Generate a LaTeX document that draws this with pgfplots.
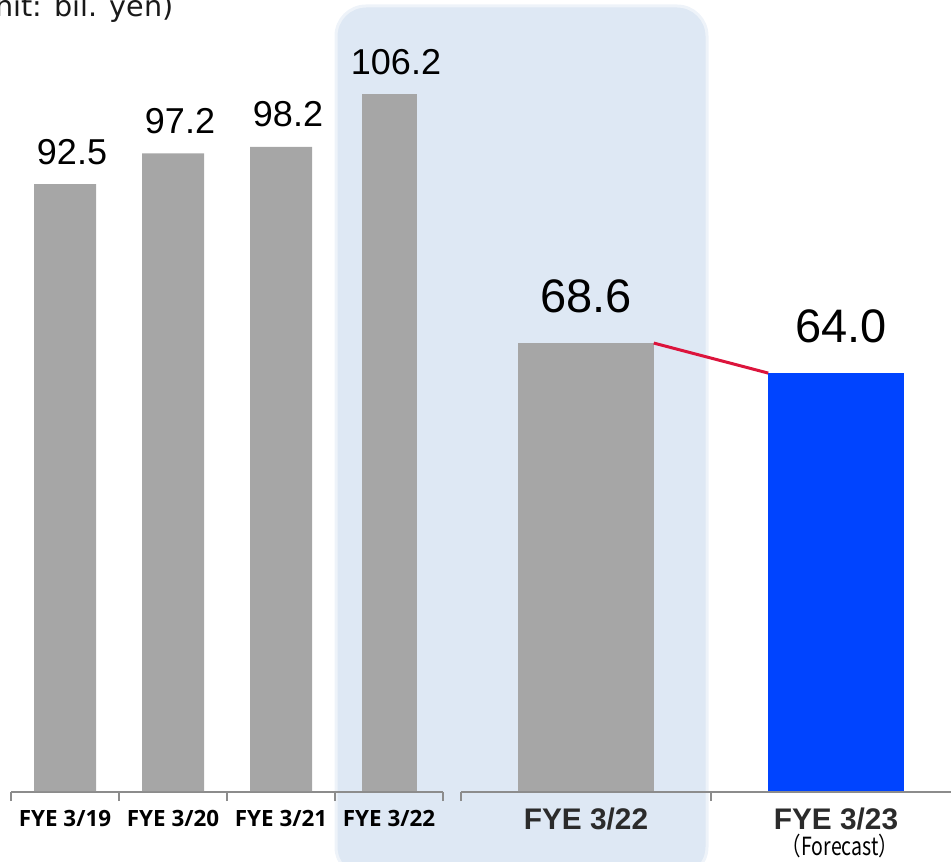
\documentclass[border=0pt]{standalone}
\usepackage{fontspec}
\setmainfont{Liberation Sans}
\newfontfamily\osans{Open Sans}
\newfontfamily\dejavu{DejaVu Sans}
\newfontfamily\cjk{Noto Sans CJK JP}
\usepackage{graphicx}
\usepackage{pgfplots}
\pgfplotsset{compat=1.18}
\definecolor{barg}{HTML}{A6A6A6}
\definecolor{barb}{HTML}{0044FF}
\definecolor{redl}{HTML}{DC143C}
\definecolor{bgbox}{HTML}{DEE8F4}
\definecolor{bgedge}{HTML}{EEF3F9}
\definecolor{axg}{HTML}{8C8C8C}
\definecolor{lab}{HTML}{2B2B2B}
\begin{document}
\begin{tikzpicture}
\useasboundingbox (0,0) rectangle (475.5pt,430.5pt);
\clip (0,0) rectangle (475.5pt,430.5pt);
\fill[bgbox, draw=bgedge, line width=1.5pt, rounded corners=15pt] (168pt,-8pt) rectangle (353.5pt,427.5pt);
\node[anchor=base east, font=\dejavu\fontsize{14.3}{16}\selectfont, text=black!90, inner sep=0pt] at (87pt,422.15pt) {(Unit: bil. yen)};

\begin{axis}[
  at={(5.5pt,34.5pt)}, anchor=south west,
  scale only axis, width=216pt, height=396pt,
  xmin=-0.5, xmax=3.5, ymin=-0.152, ymax=120.58,
  axis y line=none, axis x line*=bottom,
  x axis line style={axg, line width=0.75pt},
  xtick={0,1,2,3}, xticklabels={FYE 3/19,FYE 3/20,FYE 3/21,FYE 3/22},
  minor xtick={-0.5,0.5,1.5,2.5,3.5},
  tick align=outside, major tick length=0pt, minor tick length=4.5pt,
  minor tick style={axg, line width=0.75pt},
  xticklabel style={anchor=base, yshift=-17.35pt, font=\osans\bfseries\fontsize{11.2}{12}\selectfont, text=black, inner sep=0pt},
  clip=false,
  /pgf/number format/fixed, /pgf/number format/fixed zerofill, /pgf/number format/precision=1,
  /pgf/number format/assume math mode=true,
  nodes near coords style={anchor=base, yshift=10pt, xshift=3.5pt, font=\fontsize{18}{18}\selectfont, text=black, inner sep=0pt},
]
\addplot[ybar, bar width=31pt, bar shift=0pt, fill=barg, draw=none, nodes near coords] coordinates {(0,92.5) (1,97.2) (2,98.2)};
\addplot[ybar, bar width=27.5pt, bar shift=0pt, fill=barg, draw=none, nodes near coords] coordinates {(3,106.2)};
\end{axis}

\begin{axis}[
  at={(230.5pt,34.5pt)}, anchor=south west,
  scale only axis, width=245pt, height=396pt,
  xmin=-0.5, xmax=1.46, ymin=-0.153, ymax=121.14,
  axis y line=none, axis x line*=bottom,
  x axis line style={axg, line width=0.75pt},
  xtick={0,1}, xticklabels={FYE 3/22,FYE 3/23},
  minor xtick={-0.5,0.5},
  tick align=outside, major tick length=0pt, minor tick length=4.5pt,
  minor tick style={axg, line width=0.75pt},
  xticklabel style={anchor=base, yshift=-18.5pt, font=\bfseries\fontsize{14.9}{16}\selectfont, text=lab, inner sep=0pt},
  clip=false,
  /pgf/number format/fixed, /pgf/number format/fixed zerofill, /pgf/number format/precision=1,
  /pgf/number format/assume math mode=true,
  nodes near coords style={anchor=base, yshift=15.5pt, font=\fontsize{23.5}{24}\selectfont, text=black, inner sep=0pt},
]
\addplot[ybar, bar width=67.75pt, bar shift=0pt, fill=barg, draw=none, nodes near coords] coordinates {(0,68.6)};
\addplot[ybar, bar width=67.75pt, bar shift=0pt, fill=barb, draw=none, nodes near coords, nodes near coords style={xshift=2.5pt}] coordinates {(1,64.0)};
\addplot[redl, line width=1.5pt, no marks] coordinates {(0.271,68.6) (0.729,64.0)};
\node[anchor=base, text=black, inner sep=0pt, yshift=-31.5pt] at (axis cs:1.016,-0.153) {\scalebox{0.78}[1]{\cjk\fontsize{12.5}{13}\selectfont （Forecast）}};
\end{axis}
\end{tikzpicture}
\end{document}
